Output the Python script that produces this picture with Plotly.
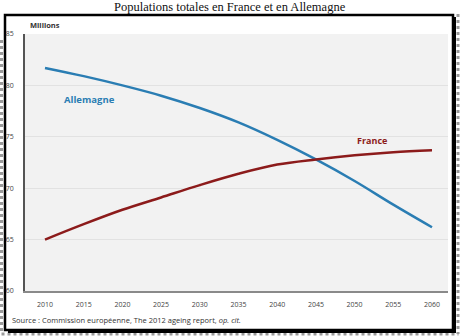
import plotly.graph_objects as go

# Population totale (millions), projections 2010-2060
years = [2010, 2015, 2020, 2025, 2030, 2035, 2040, 2045, 2050, 2055, 2060]
allemagne = [81.7, 80.9, 80.0, 79.0, 77.8, 76.4, 74.7, 72.8, 70.7, 68.4, 66.2]
france = [65.0, 66.5, 67.9, 69.1, 70.3, 71.4, 72.3, 72.8, 73.2, 73.5, 73.7]
y_ticks = [60, 65, 70, 75, 80, 85]

W, H = 460, 336
L, R, T, B = 25, 12, 34, 45
PW, PH = W - L - R, H - T - B


def px(x):
    return (x - L) / PW


def py(y):
    return (H - B - y) / PH


BLUE = "#2a7db3"
RED = "#8c1b1b"
FONT = "Open Sans"

fig = go.Figure()
fig.add_trace(go.Scatter(x=years, y=allemagne, mode="lines", name="Allemagne",
                         line=dict(color=BLUE, width=2.5, shape="spline")))
fig.add_trace(go.Scatter(x=years, y=france, mode="lines", name="France",
                         line=dict(color=RED, width=2.5, shape="spline")))

x0 = 2010 - 20 / 7.74
x1 = 2010 + (W - R - 45) / 7.74

fig.update_layout(
    width=W, height=H,
    margin=dict(l=L, r=R, t=T, b=B, autoexpand=False),
    paper_bgcolor="white",
    plot_bgcolor="#f2f2f2",
    showlegend=False,
    xaxis=dict(range=[x0, x1], tickvals=years, showgrid=False, zeroline=False,
               showline=True, linecolor="#8a8a8a", linewidth=1.5, automargin=False,
               tickfont=dict(family=FONT, size=7, color="#444"),
               ticks="", ticklabelstandoff=6),
    yaxis=dict(range=[60, 85], tickvals=y_ticks, showgrid=True,
               gridcolor="#e2e2e2", gridwidth=1, zeroline=False,
               showline=True, linecolor="#555", linewidth=1.5, automargin=False,
               tickfont=dict(family=FONT, size=7, color="#444"),
               ticks="", ticklabelstandoff=8),
)

annotations = [
    dict(text="Populations totales en France et en Allemagne", x=px(230), y=py(7),
         xref="paper", yref="paper", showarrow=False, xanchor="center", yanchor="middle",
         font=dict(family="Liberation Serif", size=12.5, color="#111")),
    dict(text="<b>Millions</b>", x=px(28), y=py(25), xref="paper", yref="paper",
         showarrow=False, xanchor="left", yanchor="middle",
         font=dict(family=FONT, size=7.5, color="#333")),
    dict(text="Source : Commission européenne, The 2012 ageing report, <i>op. cit.</i>",
         x=px(10), y=py(320), xref="paper", yref="paper", showarrow=False,
         xanchor="left", yanchor="middle",
         font=dict(family=FONT, size=7.5, color="#333")),
    dict(text="<b>Allemagne</b>", x=2015.8, y=78.6, showarrow=False,
         font=dict(family=FONT, size=9.5, color=BLUE)),
    dict(text="<b>France</b>", x=2052.2, y=74.6, showarrow=False,
         font=dict(family=FONT, size=9, color=RED)),
]
fig.update_layout(annotations=annotations)

shapes = [
    # dotted outer frame
    dict(type="line", x0=px(1.5), x1=px(1.5), y0=py(40), y1=py(334), xref="paper", yref="paper",
         line=dict(color="#9a9a9a", width=3, dash="dot")),
    dict(type="line", x0=px(1.5), x1=px(458.5), y0=py(334), y1=py(334), xref="paper", yref="paper",
         line=dict(color="#9a9a9a", width=3, dash="dot")),
    dict(type="line", x0=px(458), x1=px(458), y0=py(14), y1=py(334), xref="paper", yref="paper",
         line=dict(color="#9a9a9a", width=3, dash="dot")),
    # black panel frame
    dict(type="rect", x0=px(5), x1=px(453), y0=py(330), y1=py(15), xref="paper", yref="paper",
         line=dict(color="black", width=2.5)),
    # drop shadow on right and bottom
    dict(type="line", x0=px(454.5), x1=px(454.5), y0=py(17), y1=py(332), xref="paper", yref="paper",
         line=dict(color="black", width=3)),
    dict(type="line", x0=px(8), x1=px(456), y0=py(331.5), y1=py(331.5), xref="paper", yref="paper",
         line=dict(color="black", width=3)),
]
for s in shapes:
    s["layer"] = "below"
fig.update_layout(shapes=shapes)

fig.write_html("out.html")
